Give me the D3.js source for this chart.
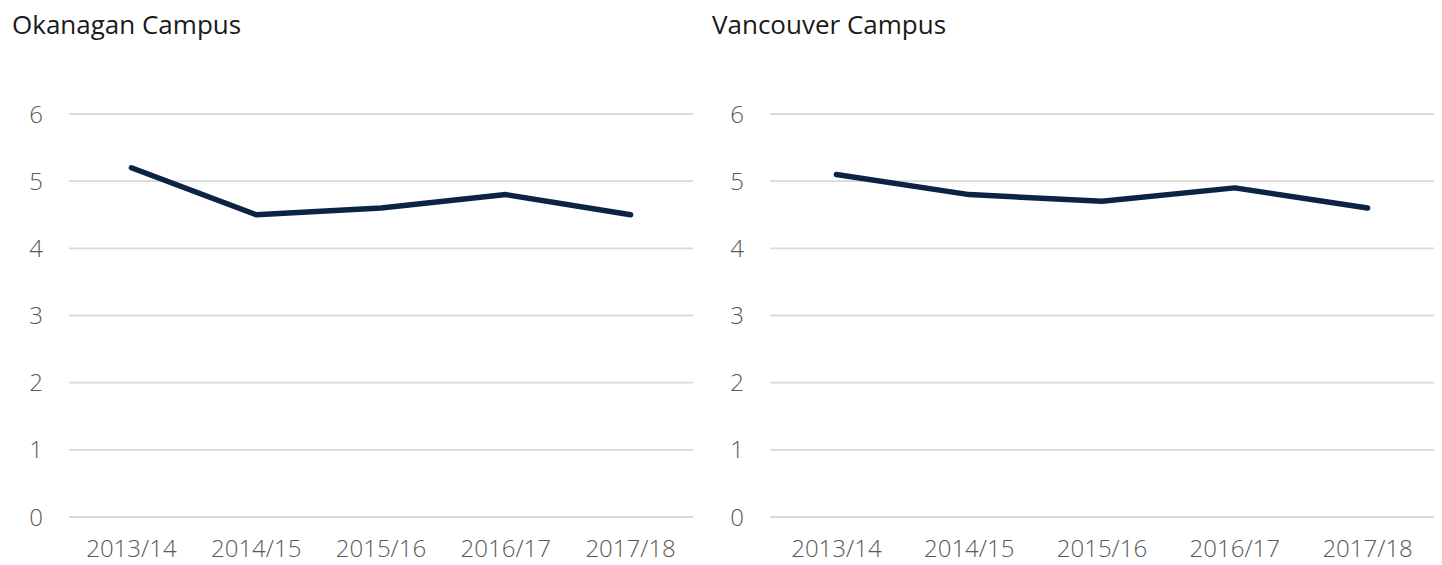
<!DOCTYPE html>
<html>
<head>
<meta charset="utf-8">
<script src="https://cdn.jsdelivr.net/npm/d3@7"></script>
<style>
  html, body { margin: 0; padding: 0; background: #fff; }
  svg { display: block; }
  text { font-family: "Open Sans", sans-serif; }
</style>
</head>
<body>
<svg id="chart" width="1442" height="565"></svg>
<script>
// Academic years on the x axis
const years = ["2013/14", "2014/15", "2015/16", "2016/17", "2017/18"];
// Values per campus
const okanaganValues = [5.2, 4.5, 4.6, 4.8, 4.5];
const vancouverValues = [5.1, 4.8, 4.7, 4.9, 4.6];
// Y axis ticks
const yTicks = [0, 1, 2, 3, 4, 5, 6];

const panels = [
  { title: "Okanagan Campus", values: okanaganValues, x0: 0, gridLeft: 69, gridRight: 693 },
  { title: "Vancouver Campus", values: vancouverValues, x0: 700, gridLeft: 770, gridRight: 1434 }
];

const svg = d3.select("#chart");
const yTop = 114, yBottom = 517;

const y = d3.scaleLinear().domain([0, 6]).range([yBottom, yTop]);

panels.forEach(p => {
  const g = svg.append("g");

  const x = d3.scalePoint()
    .domain(years)
    .range([p.gridLeft, p.gridRight])
    .padding(0.5);

  g.append("text")
    .attr("x", p.x0 + 12)
    .attr("y", 34)
    .attr("font-size", 26)
    .attr("fill", "#1a1a1a")
    .text(p.title);

  // horizontal gridlines
  g.append("g")
    .selectAll("line")
    .data(yTicks)
    .join("line")
    .attr("x1", p.gridLeft)
    .attr("x2", p.gridRight)
    .attr("y1", d => y(d))
    .attr("y2", d => y(d))
    .attr("stroke", "#d9d9d9")
    .attr("stroke-width", 1.8);

  // y axis labels
  g.append("g")
    .selectAll("text")
    .data(yTicks)
    .join("text")
    .attr("x", p.gridLeft - 26)
    .attr("y", d => y(d))
    .attr("dy", "0.36em")
    .attr("text-anchor", "end")
    .attr("font-size", 24)
    .attr("font-weight", 300)
    .attr("fill", "#595959")
    .text(d => d);

  // x axis labels
  g.append("g")
    .selectAll("text")
    .data(years)
    .join("text")
    .attr("x", d => x(d))
    .attr("y", 557)
    .attr("text-anchor", "middle")
    .attr("font-size", 24)
    .attr("font-weight", 300)
    .attr("fill", "#595959")
    .text(d => d);

  const line = d3.line()
    .x((d, i) => x(years[i]))
    .y(d => y(d));

  g.append("path")
    .datum(p.values)
    .attr("d", line)
    .attr("fill", "none")
    .attr("stroke", "#0c2344")
    .attr("stroke-width", 5.5)
    .attr("stroke-linecap", "round")
    .attr("stroke-linejoin", "round");
});
</script>
</body>
</html>
